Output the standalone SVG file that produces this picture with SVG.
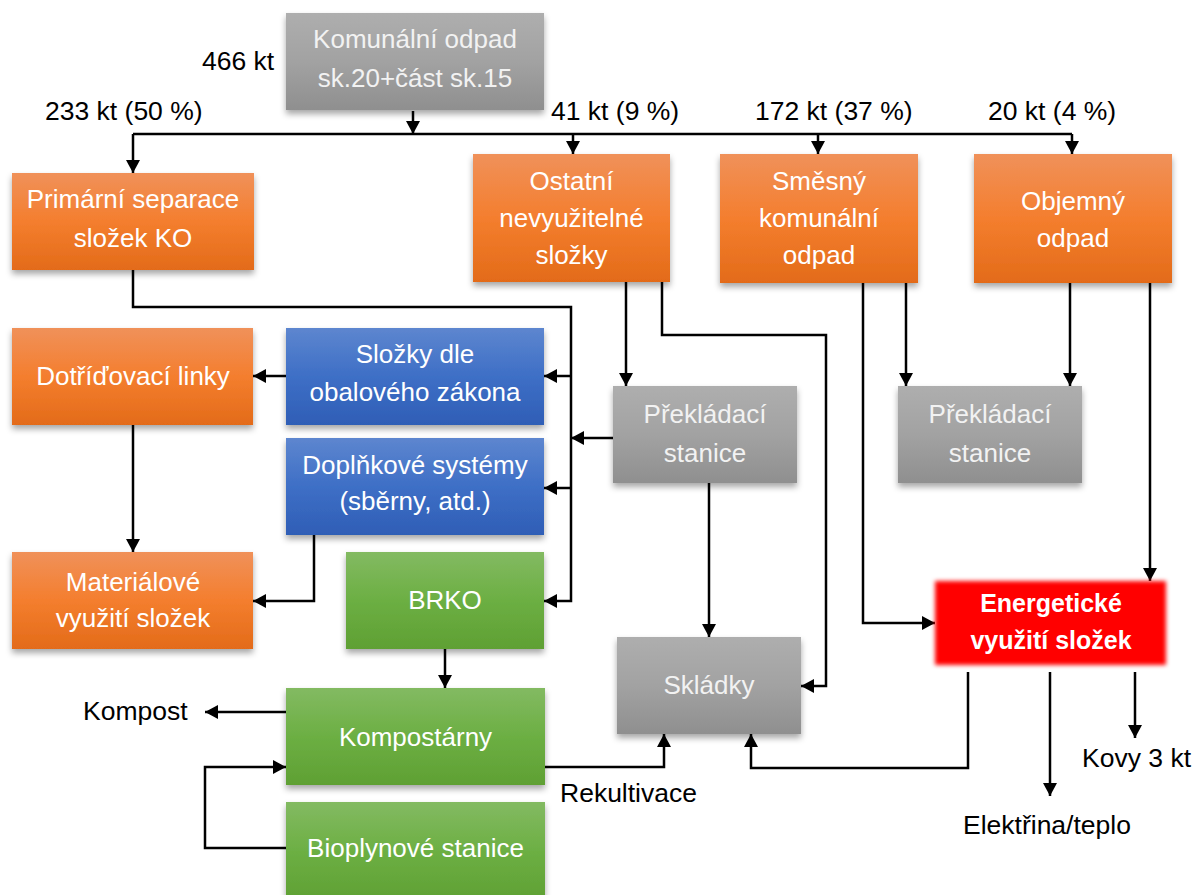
<svg xmlns="http://www.w3.org/2000/svg" width="1192" height="895" viewBox="0 0 1192 895">
  <defs>
    <linearGradient id="gOrange" x1="0" y1="0" x2="0" y2="1">
      <stop offset="0" stop-color="#F0915A"/>
      <stop offset="0.5" stop-color="#F47E2E"/>
      <stop offset="1" stop-color="#E36B19"/>
    </linearGradient>
    <linearGradient id="gBlue" x1="0" y1="0" x2="0" y2="1">
      <stop offset="0" stop-color="#5D86CF"/>
      <stop offset="0.5" stop-color="#3E6FC6"/>
      <stop offset="1" stop-color="#2F5EB6"/>
    </linearGradient>
    <linearGradient id="gGreen" x1="0" y1="0" x2="0" y2="1">
      <stop offset="0" stop-color="#83BA62"/>
      <stop offset="0.5" stop-color="#6CAF43"/>
      <stop offset="1" stop-color="#5FA033"/>
    </linearGradient>
    <linearGradient id="gGray" x1="0" y1="0" x2="0" y2="1">
      <stop offset="0" stop-color="#AEAEAE"/>
      <stop offset="0.5" stop-color="#A2A2A2"/>
      <stop offset="1" stop-color="#8F8F8F"/>
    </linearGradient>
    <filter id="shadow" x="-10%" y="-10%" width="120%" height="130%">
      <feDropShadow dx="0" dy="4" stdDeviation="3" flood-color="#000" flood-opacity="0.35"/>
    </filter>
    <filter id="soft" x="-10%" y="-20%" width="120%" height="140%">
      <feGaussianBlur stdDeviation="2"/>
    </filter>
    <marker id="arrow" markerUnits="userSpaceOnUse" markerWidth="14" markerHeight="14" refX="13" refY="7" orient="auto">
      <path d="M0,0 L13,7 L0,14 Z" fill="#000"/>
    </marker>
    <style>
      .box-text { font-family: "Liberation Sans", Arial, sans-serif; font-size: 26px; fill: #FFFFFF; text-anchor: middle; }
      .gray-text { fill: #F2F2F2; }
      .bold { font-weight: bold; font-size: 25px; }
      .label { font-family: "Liberation Sans", Arial, sans-serif; font-size: 26.5px; fill: #000; }
      .conn { fill: none; stroke: #000; stroke-width: 2.5; }
      .arr { marker-end: url(#arrow); }
    </style>
  </defs>

  <!-- connectors -->
  <g id="connectors">
    <path class="conn arr" d="M413 111 V134"/>
    <path class="conn" d="M133 134 H1072"/>
    <path class="conn arr" d="M133 134 V173"/>
    <path class="conn arr" d="M573 134 V154"/>
    <path class="conn arr" d="M818 134 V154"/>
    <path class="conn arr" d="M1072 134 V154"/>

    <path class="conn arr" d="M133 270 V307 H571 V601 H544"/>
    <path class="conn arr" d="M571 376 H544"/>
    <path class="conn arr" d="M571 488 H544"/>
    <path class="conn arr" d="M613 438 H571"/>

    <path class="conn arr" d="M286 376 H253"/>
    <path class="conn arr" d="M133 425 V552"/>
    <path class="conn arr" d="M314 535 V601 H253"/>

    <path class="conn arr" d="M445 649 V688"/>
    <path class="conn arr" d="M286 712 H205"/>
    <path class="conn arr" d="M286 848 H205 V767 H286"/>
    <path class="conn arr" d="M545 767 H664 V734"/>

    <path class="conn arr" d="M626 282 V386"/>
    <path class="conn arr" d="M662 282 V335 H826 V686 H801"/>
    <path class="conn arr" d="M709 483 V637"/>

    <path class="conn arr" d="M863 283 V623 H935"/>
    <path class="conn arr" d="M906 283 V386"/>
    <path class="conn arr" d="M1070 283 V386"/>
    <path class="conn arr" d="M1150 283 V581"/>

    <path class="conn arr" d="M968 672 V768 H751 V734"/>
    <path class="conn arr" d="M1050 672 V796"/>
    <path class="conn arr" d="M1135 672 V738"/>
  </g>

  <!-- flow quantities and outputs -->
  <g id="labels">
    <text class="label" x="202" y="70">466 kt</text>
    <text class="label" x="45" y="120">233 kt (50 %)</text>
    <text class="label" x="551" y="120">41 kt (9 %)</text>
    <text class="label" x="755" y="120">172 kt (37 %)</text>
    <text class="label" x="988" y="120">20 kt (4 %)</text>
    <text class="label" x="83" y="720">Kompost</text>
    <text class="label" x="560" y="802">Rekultivace</text>
    <text class="label" x="963" y="834">Elektřina/teplo</text>
    <text class="label" x="1082" y="767">Kovy 3 kt</text>
  </g>

  <g id="komunalni-odpad">
    <rect x="286" y="13" width="258" height="97" fill="url(#gGray)" filter="url(#shadow)"/>
    <text class="box-text gray-text" x="415" y="48">Komunální odpad</text>
    <text class="box-text gray-text" x="415" y="87">sk.20+část sk.15</text>
  </g>

  <g id="primarni-separace">
    <rect x="12" y="173" width="242" height="97" fill="url(#gOrange)" filter="url(#shadow)"/>
    <text class="box-text" x="133" y="208">Primární separace</text>
    <text class="box-text" x="133" y="247">složek KO</text>
  </g>

  <g id="ostatni-slozky">
    <rect x="473" y="154" width="197" height="128" fill="url(#gOrange)" filter="url(#shadow)"/>
    <text class="box-text" x="571.5" y="190">Ostatní</text>
    <text class="box-text" x="571.5" y="227">nevyužitelné</text>
    <text class="box-text" x="571.5" y="264">složky</text>
  </g>

  <g id="smesny-odpad">
    <rect x="720" y="154" width="198" height="129" fill="url(#gOrange)" filter="url(#shadow)"/>
    <text class="box-text" x="819" y="190">Směsný</text>
    <text class="box-text" x="819" y="227">komunální</text>
    <text class="box-text" x="819" y="264">odpad</text>
  </g>

  <g id="objemny-odpad">
    <rect x="974" y="154" width="198" height="129" fill="url(#gOrange)" filter="url(#shadow)"/>
    <text class="box-text" x="1073" y="210">Objemný</text>
    <text class="box-text" x="1073" y="247">odpad</text>
  </g>

  <g id="dotridovaci-linky">
    <rect x="12" y="328" width="241" height="97" fill="url(#gOrange)" filter="url(#shadow)"/>
    <text class="box-text" x="133" y="385">Dotříďovací linky</text>
  </g>

  <g id="slozky-obalovy-zakon">
    <rect x="286" y="328" width="258" height="97" fill="url(#gBlue)" filter="url(#shadow)"/>
    <text class="box-text" x="415" y="363">Složky dle</text>
    <text class="box-text" x="415" y="401">obalového zákona</text>
  </g>

  <g id="doplnkove-systemy">
    <rect x="286" y="438" width="258" height="97" fill="url(#gBlue)" filter="url(#shadow)"/>
    <text class="box-text" x="415" y="474">Doplňkové systémy</text>
    <text class="box-text" x="415" y="510">(sběrny, atd.)</text>
  </g>

  <g id="materialove-vyuziti">
    <rect x="12" y="552" width="241" height="97" fill="url(#gOrange)" filter="url(#shadow)"/>
    <text class="box-text" x="133" y="591">Materiálové</text>
    <text class="box-text" x="133" y="627">využití složek</text>
  </g>

  <g id="brko">
    <rect x="346" y="552" width="198" height="97" fill="url(#gGreen)" filter="url(#shadow)"/>
    <text class="box-text" x="445" y="609">BRKO</text>
  </g>

  <g id="prekladaci-stanice-1">
    <rect x="613" y="386" width="184" height="97" fill="url(#gGray)" filter="url(#shadow)"/>
    <text class="box-text gray-text" x="705" y="423">Překládací</text>
    <text class="box-text gray-text" x="705" y="462">stanice</text>
  </g>

  <g id="prekladaci-stanice-2">
    <rect x="898" y="386" width="184" height="97" fill="url(#gGray)" filter="url(#shadow)"/>
    <text class="box-text gray-text" x="990" y="423">Překládací</text>
    <text class="box-text gray-text" x="990" y="462">stanice</text>
  </g>

  <g id="skladky">
    <rect x="617" y="637" width="184" height="97" fill="url(#gGray)" filter="url(#shadow)"/>
    <text class="box-text gray-text" x="709" y="694">Skládky</text>
  </g>

  <g id="energeticke-vyuziti">
    <rect x="935" y="581" width="231" height="84" fill="#FF0000" filter="url(#soft)"/>
    <text class="box-text bold" x="1051" y="612">Energetické</text>
    <text class="box-text bold" x="1051" y="649">využití složek</text>
  </g>

  <g id="kompostarny">
    <rect x="286" y="688" width="259" height="97" fill="url(#gGreen)" filter="url(#shadow)"/>
    <text class="box-text" x="415.5" y="746">Kompostárny</text>
  </g>

  <g id="bioplynove-stanice">
    <rect x="286" y="802" width="259" height="100" fill="url(#gGreen)" filter="url(#shadow)"/>
    <text class="box-text" x="415.5" y="857">Bioplynové stanice</text>
  </g>
</svg>
